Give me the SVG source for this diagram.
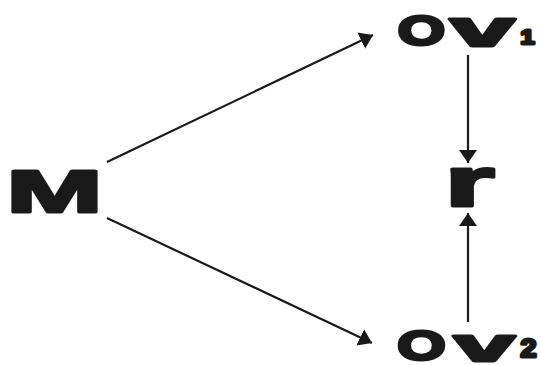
<svg xmlns="http://www.w3.org/2000/svg" width="540" height="365" viewBox="0 0 540 365">
  <style>
    .lbl { font-family: "Liberation Sans", Arial, sans-serif; font-weight: bold; fill: #1a1a1a; stroke: #1a1a1a; stroke-width: 3; stroke-linejoin: round; }
    .edge { stroke: #1a1a1a; stroke-width: 2.2; fill: none; marker-end: url(#ah); }
  </style>
  <defs>
    <marker id="ah" markerUnits="userSpaceOnUse" markerWidth="14" markerHeight="20" refX="13" refY="10" orient="auto">
      <path d="M0,1 L13,10 L0,19 Z" fill="#1a1a1a"/>
    </marker>
  </defs>
  <rect width="540" height="365" fill="#ffffff"/>
  <g id="connectors">
    <line class="edge" x1="107" y1="162" x2="373" y2="35"/>
    <line class="edge" x1="107" y1="218" x2="372" y2="343"/>
    <line class="edge" x1="468" y1="55" x2="468" y2="163"/>
    <line class="edge" x1="468" y1="322" x2="468" y2="213"/>
  </g>
  <g id="M">
    <text class="lbl" transform="translate(54.5,211.5) scale(1.92,1)" x="0" y="0" font-size="60" text-anchor="middle">M</text>
  </g>
  <g id="Ov1">
    <text class="lbl" transform="translate(421.5,45) scale(1.45,1)" x="0" y="0" font-size="42" text-anchor="middle">O</text>
    <text class="lbl" transform="translate(482.5,45.5) scale(2.3,1)" x="0" y="0" font-size="50" text-anchor="middle">v</text>
    <text class="lbl" transform="translate(527.5,43.5) scale(1.2,1)" x="0" y="0" font-size="21" text-anchor="middle">1</text>
  </g>
  <g id="r">
    <text class="lbl" transform="translate(444.4,205.5) scale(1.84,1)" x="0" y="0" font-size="70">r</text>
  </g>
  <g id="Ov2">
    <text class="lbl" transform="translate(421.5,360) scale(1.45,1)" x="0" y="0" font-size="43" text-anchor="middle">O</text>
    <text class="lbl" transform="translate(484.5,360.5) scale(2.34,1)" x="0" y="0" font-size="46" text-anchor="middle">v</text>
    <text class="lbl" transform="translate(528.5,356.5) scale(1.15,1)" x="0" y="0" font-size="25" text-anchor="middle">2</text>
  </g>
</svg>
